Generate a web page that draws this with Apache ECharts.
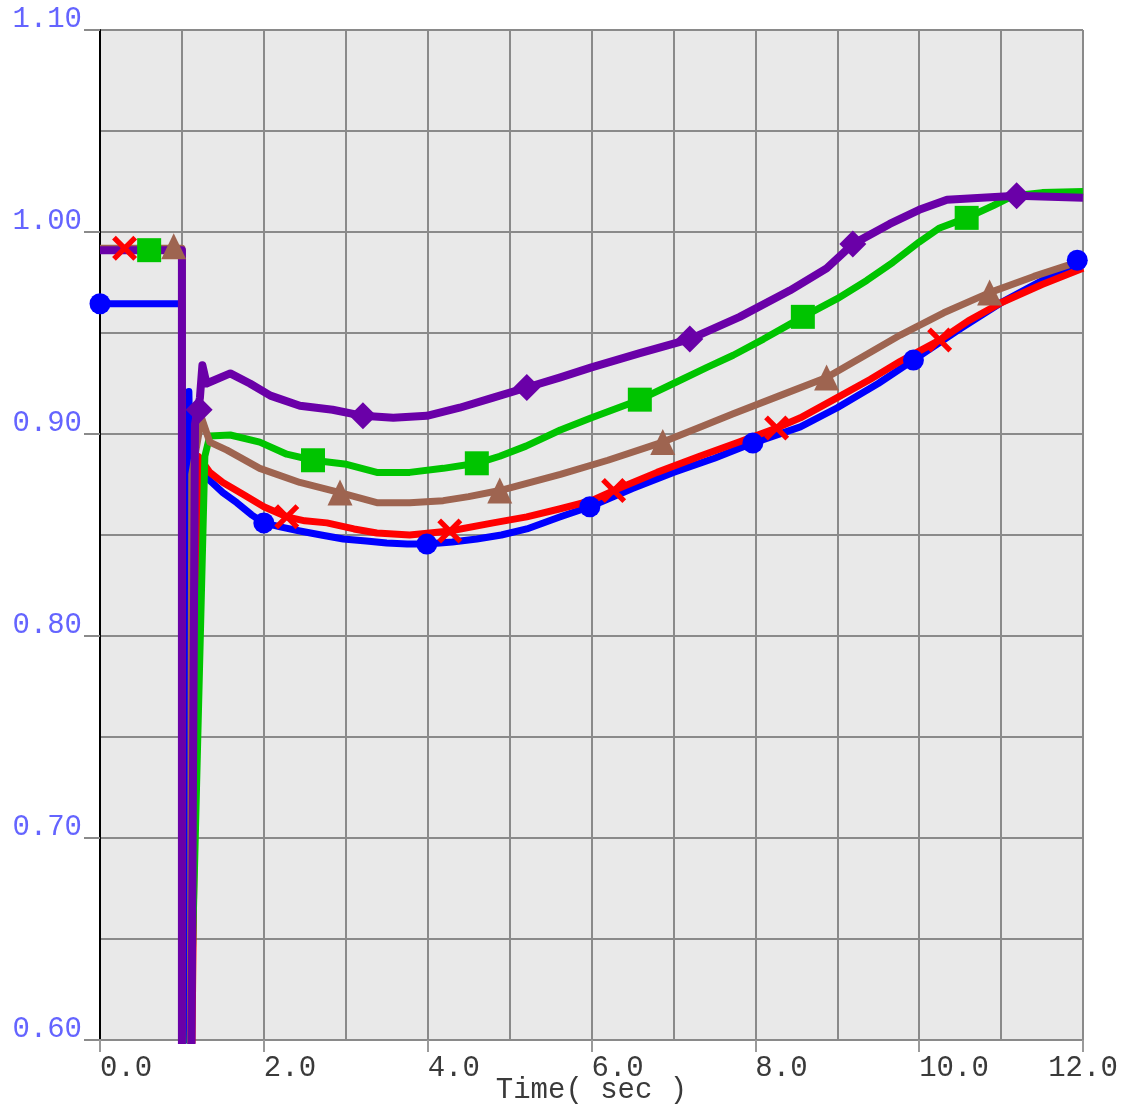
<!DOCTYPE html>
<html>
<head>
<meta charset="utf-8">
<script src="https://cdn.jsdelivr.net/npm/echarts@6/dist/echarts.min.js"></script>
<style>
html,body{margin:0;padding:0;background:#fff;}
#chart{width:1122px;height:1107px;}
</style>
</head>
<body>
<div id="chart"></div>
<script>
// ---- data (time in sec, value in pu) ----
const xTickLabels = ['0.0','2.0','4.0','6.0','8.0','10.0','12.0'];
const yTickLabels = ['0.60','0.70','0.80','0.90','1.00','1.10'];
const xAxisName = 'Time( sec )';

const blueLine = [[0,0.9645],[1.0,0.9645],[1.0,0.55],[1.08,0.55],[1.085,0.921],[1.1,0.888],[1.2,0.882],[1.34,0.877],[1.5,0.871],[1.67,0.866],[1.85,0.860],[2.0,0.856],[2.2,0.854],[2.44,0.852],[2.7,0.850],[2.97,0.848],[3.25,0.847],[3.5,0.846],[3.75,0.8455],[4.0,0.8455],[4.3,0.8465],[4.6,0.848],[4.9,0.850],[5.21,0.853],[5.62,0.859],[5.98,0.864],[6.5,0.873],[7.0,0.881],[7.5,0.888],[7.97,0.8955],[8.55,0.9035],[9.0,0.913],[9.5,0.925],[9.93,0.9366],[10.5,0.952],[11.0,0.965],[11.5,0.976],[12.0,0.986]];
const redLine = [[0,0.991],[1.0,0.991],[1.0,0.55],[1.11,0.55],[1.2,0.889],[1.34,0.881],[1.5,0.876],[1.75,0.870],[2.0,0.864],[2.28,0.859],[2.5,0.857],[2.77,0.856],[3.1,0.853],[3.38,0.851],[3.78,0.850],[4.27,0.852],[4.8,0.856],[5.21,0.859],[5.62,0.863],[6.0,0.867],[6.27,0.872],[6.8,0.881],[7.32,0.889],[7.8,0.896],[8.26,0.903],[8.55,0.908],[9.0,0.918],[9.4,0.927],[9.77,0.936],[10.25,0.9465],[10.6,0.956],[11.0,0.965],[11.5,0.974],[12.0,0.982]];
const greenLine = [[0,0.991],[1.0,0.991],[1.0,0.55],[1.07,0.55],[1.28,0.889],[1.34,0.899],[1.59,0.8995],[1.95,0.896],[2.28,0.890],[2.6,0.887],[3.01,0.885],[3.38,0.881],[3.78,0.881],[4.19,0.883],[4.6,0.8855],[4.88,0.889],[5.2,0.894],[5.62,0.902],[6.0,0.908],[6.59,0.917],[7.0,0.925],[7.41,0.933],[7.73,0.939],[8.1,0.947],[8.58,0.958],[9.0,0.967],[9.36,0.976],[9.68,0.985],[10.0,0.995],[10.25,1.002],[10.58,1.007],[10.9,1.013],[11.15,1.018],[11.5,1.0195],[12.0,1.020]];
const brownLine = [[0,0.992],[1.0,0.992],[1.0,0.55],[1.1,0.55],[1.12,0.88],[1.24,0.908],[1.34,0.896],[1.55,0.892],[1.95,0.883],[2.44,0.876],[2.93,0.871],[3.38,0.866],[3.78,0.866],[4.19,0.867],[4.5,0.869],[4.88,0.872],[5.62,0.880],[6.2,0.887],[6.87,0.896],[7.3,0.903],[7.73,0.910],[8.3,0.919],[8.87,0.928],[9.3,0.938],[9.77,0.949],[10.3,0.960],[10.86,0.970],[11.4,0.978],[12.0,0.986]];
const purpleLine = [[0,0.991],[1.0,0.991],[1.0,0.55],[1.11,0.55],[1.16,0.905],[1.22,0.918],[1.25,0.934],[1.3,0.925],[1.59,0.930],[1.83,0.925],[2.08,0.919],[2.44,0.914],[2.84,0.912],[3.21,0.909],[3.58,0.908],[3.99,0.909],[4.39,0.913],[4.8,0.918],[5.21,0.923],[5.62,0.928],[6.0,0.933],[6.59,0.940],[7.2,0.947],[7.81,0.958],[8.42,0.971],[8.87,0.982],[9.19,0.994],[9.64,1.004],[10.0,1.011],[10.34,1.016],[11.19,1.018],[12.0,1.017]];

const blueMarks = [[0,0.9645],[2.0,0.856],[3.99,0.8455],[5.98,0.864],[7.97,0.8955],[9.93,0.9366],[11.93,0.986]];
const redMarks = [[0.3,0.992],[2.28,0.859],[4.27,0.852],[6.27,0.872],[8.26,0.903],[10.25,0.9465]];
const greenMarks = [[0.6,0.991],[2.6,0.887],[4.6,0.8855],[6.59,0.917],[8.58,0.958],[10.58,1.007]];
const brownMarks = [[0.9,0.993],[2.93,0.871],[4.88,0.872],[6.87,0.896],[8.87,0.928],[10.86,0.970]];
const purpleMarks = [[1.21,0.912],[3.21,0.909],[5.21,0.923],[7.2,0.947],[9.19,0.994],[11.19,1.018]];

// ---- styling ----
const C = {blue:'#0000ff', red:'#ff0000', green:'#00c400', brown:'#9e6450', purple:'#6a00a8'};
const xPath = 'path://M0,3 L3,0 L10,7 L17,0 L20,3 L13,10 L20,17 L17,20 L10,13 L3,20 L0,17 L7,10 Z';
const FONT = '"Liberation Mono", "Courier New", monospace';

function lineS(data, color, w) {
  return {type:'line', data:data, showSymbol:false, symbol:'none', smooth:false,
    lineStyle:{color:color, width:w, cap:'butt', join:'round'}, itemStyle:{color:color},
    clip:true, animation:false, z:2};
}
function markS(data, color, symbol, size) {
  return {type:'scatter', data:data, symbol:symbol, symbolSize:size,
    itemStyle:{color:color, opacity:1}, animation:false, z:2, clip:true};
}

const chart = echarts.init(document.getElementById('chart'), null, {renderer:'canvas'});
chart.setOption({
  animation:false,
  backgroundColor:'#ffffff',
  grid:{left:100, right:39, top:30, bottom:67, show:true, backgroundColor:'#e9e9e9', borderWidth:0,
        containLabel:false, outerBoundsMode:'none'},
  xAxis:{
    type:'value', min:0, max:12, interval:2,
    axisLine:{show:true, onZero:false, lineStyle:{color:'#8a8a8a', width:2}},
    axisTick:{show:true, length:12, lineStyle:{color:'#9a9a9a', width:2}},
    minorTick:{show:false, splitNumber:2},
    splitLine:{show:true, lineStyle:{color:'#8a8a8a', width:2}},
    minorSplitLine:{show:true, lineStyle:{color:'#8a8a8a', width:2}},
    axisLabel:{
      show:true, margin:14, align:'left', alignMaxLabel:'center', verticalAlign:'top',
      fontFamily:FONT, fontSize:29, color:'#3a3a3a',
      formatter:function(v){ const i = Math.round(v/2); return xTickLabels[i] !== undefined ? xTickLabels[i] : ''; }
    },
    name:xAxisName, nameLocation:'middle', nameGap:36, nameMoveOverlap:false,
    nameTextStyle:{fontFamily:FONT, fontSize:29, color:'#3a3a3a', verticalAlign:'top'}
  },
  yAxis:{
    type:'value', min:0.6, max:1.1, interval:0.1,
    axisLine:{show:true, onZero:false, lineStyle:{color:'#000000', width:2}},
    axisTick:{show:true, length:16, lineStyle:{color:'#8a8a8a', width:2}},
    minorTick:{show:false, splitNumber:2},
    splitLine:{show:true, lineStyle:{color:'#8a8a8a', width:2}},
    minorSplitLine:{show:true, lineStyle:{color:'#8a8a8a', width:2}},
    axisLabel:{
      show:true, margin:18, verticalAlign:'bottom', lineHeight:22,
      fontFamily:FONT, fontSize:29, color:'#6464ff',
      formatter:function(v){ const i = Math.round((v-0.6)/0.1); return yTickLabels[i] !== undefined ? yTickLabels[i] : ''; }
    }
  },
  series:[
    lineS(blueLine, C.blue, 7), markS(blueMarks, C.blue, 'circle', 21),
    lineS(redLine, C.red, 7), markS(redMarks, C.red, xPath, 25),
    lineS(greenLine, C.green, 7), markS(greenMarks, C.green, 'rect', 24),
    lineS(brownLine, C.brown, 7), markS(brownMarks, C.brown, 'triangle', [25,26]),
    lineS(purpleLine, C.purple, 8), markS(purpleMarks, C.purple, 'diamond', [27,27])
  ]
});
</script>
</body>
</html>
